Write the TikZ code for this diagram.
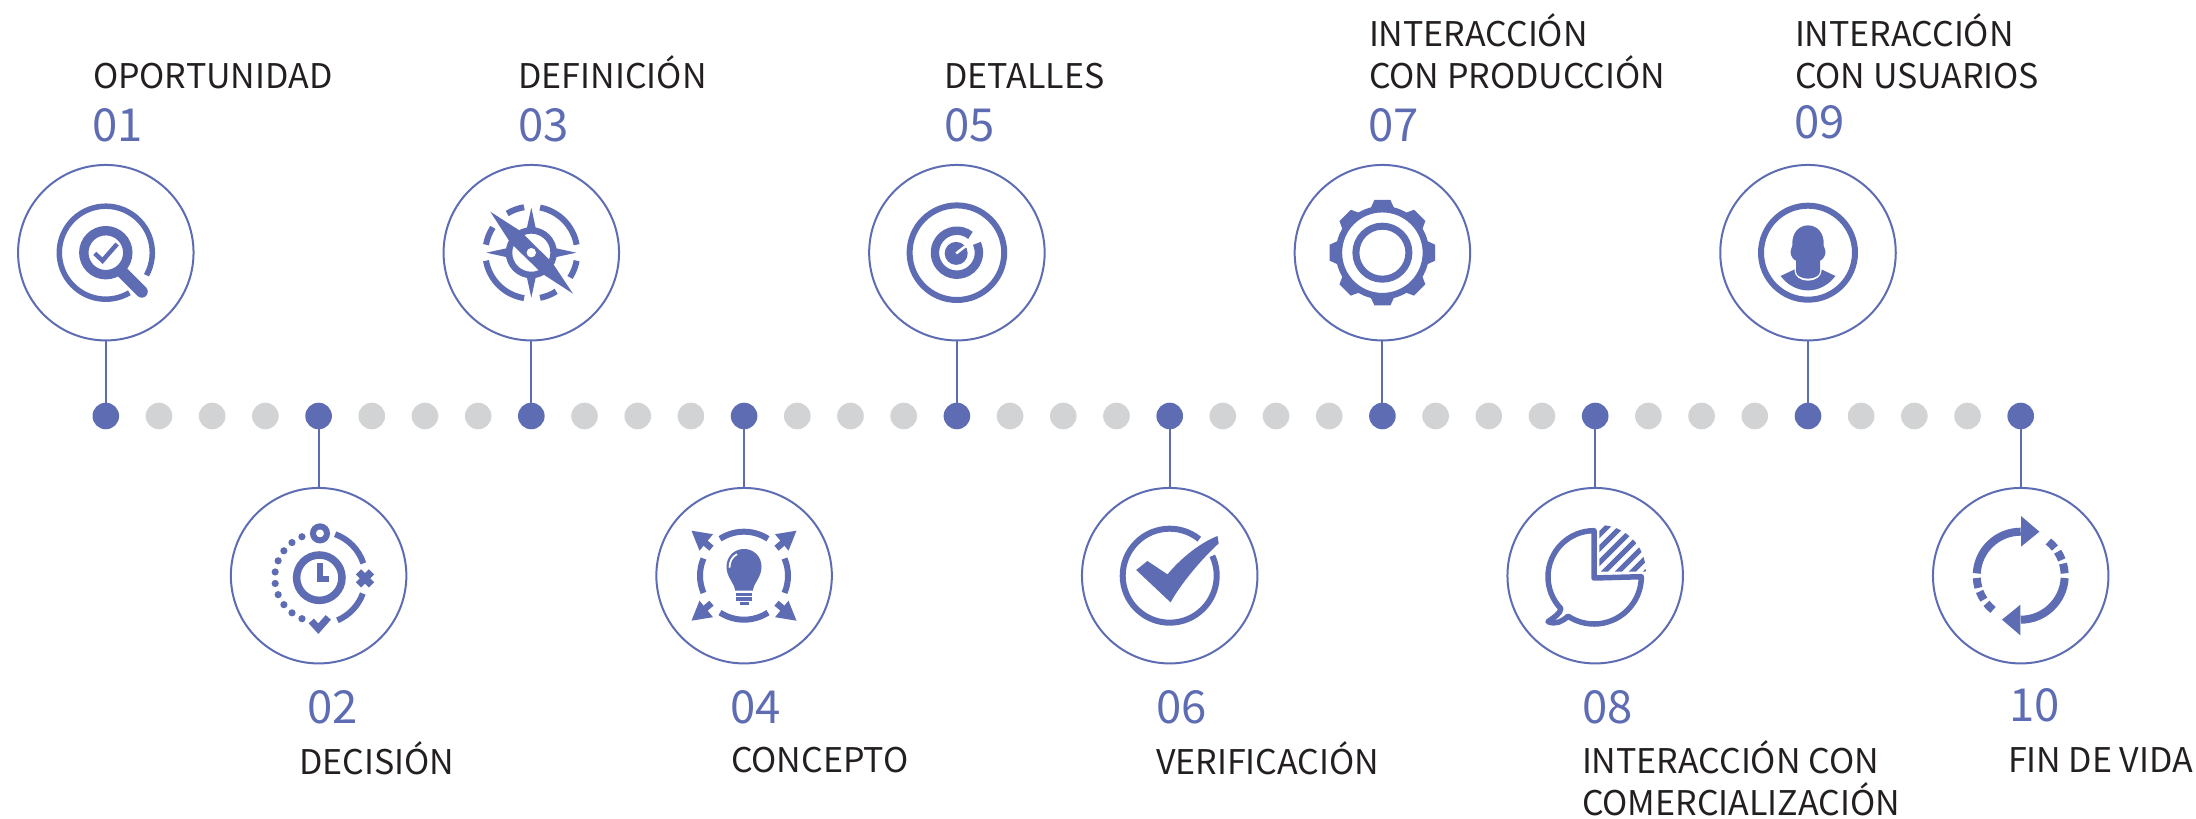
\documentclass[tikz,border=0pt]{standalone}
\usepackage{fontspec}
\setmainfont{Noto Sans CJK SC}
\definecolor{iconColor}{RGB}{94,109,179}
\definecolor{dotColor}{RGB}{209,211,212}
\definecolor{textColor}{RGB}{35,31,32}
\tikzset{
  stagecircle/.style={circle,draw=iconColor,line width=2pt,fill=white,inner sep=0pt,outer sep=0pt,minimum size=175.5pt},
  maindot/.style={circle,fill=iconColor,inner sep=0pt,outer sep=0pt,minimum size=26.6pt},
  greydot/.style={circle,fill=dotColor,inner sep=0pt,outer sep=0pt,minimum size=26.6pt},
  stagelabel/.style={anchor=base west,inner sep=0pt,outer sep=0pt,text=textColor,font=\fontsize{34}{42.4}\selectfont,align=left},
  stagenum/.style={anchor=base west,inner sep=0pt,outer sep=0pt,text=iconColor,font=\fontsize{45.5}{50}\selectfont},
  stem/.style={draw=iconColor,line width=2pt},
  iconline/.style={draw=iconColor,line width=#1},
  iconline/.default=6pt,
  iconfill/.style={fill=iconColor,draw=none}
}
% centred arc: start angle, end angle, radius
\newcommand{\ringarc}[4][iconline]{\draw[#1] (#2:#4) arc[start angle=#2,end angle=#3,radius=#4];}
\begin{document}
\begin{tikzpicture}[x=1pt,y=1pt]
\path[use as bounding box] (0,0) rectangle (2196,819);

% grey dots along the line
\foreach \i in {0,...,8}{
  \foreach \j in {1,2,3}{
    \node[greydot] (grey\i\j) at ({105.8+212.77*\i+53.19*\j},403) {};
  }
}

% stages above the line
\foreach \i/\xx in {1/105.8,3/531.3,5/956.9,7/1382.4,9/1808.0}{
  \node[maindot] (dot\i) at (\xx,403) {};
  \node[stagecircle] (stage\i) at (\xx,566.3) {};
  \draw[stem] (stage\i) -- (dot\i);
}
% stages below the line
\foreach \i/\xx in {2/318.6,4/744.1,6/1169.7,8/1595.2,10/2020.7}{
  \node[maindot] (dot\i) at (\xx,403) {};
  \node[stagecircle] (stage\i) at (\xx,243.3) {};
  \draw[stem] (stage\i) -- (dot\i);
}

% labels
\node[stagelabel] (label1) at (93,730.2) {OPORTUNIDAD};
\node[stagenum] (num1) at (92.5,677.8) {01};
\node[stagelabel] (label3) at (518.5,730.2) {DEFINICIÓN};
\node[stagenum] (num3) at (518.5,677.8) {03};
\node[stagelabel] (label5) at (944.5,730.2) {DETALLES};
\node[stagenum] (num5) at (944,677.8) {05};
\node[stagelabel] (label7) at (1369,730.2) {INTERACCIÓN\\CON PRODUCCIÓN};
\node[stagenum] (num7) at (1368.5,677.8) {07};
\node[stagelabel] (label9) at (1795,730.2) {INTERACCIÓN\\CON USUARIOS};
\node[stagenum] (num9) at (1794.5,680.1) {09};
\node[stagenum] (num2) at (307,95.2) {02};
\node[stagelabel] (label2) at (299.4,44.7) {DECISIÓN};
\node[stagenum] (num4) at (730.5,95.2) {04};
\node[stagelabel] (label4) at (731,46.3) {CONCEPTO};
\node[stagenum] (num6) at (1156.5,95.2) {06};
\node[stagelabel] (label6) at (1156,44.7) {VERIFICACIÓN};
\node[stagenum] (num8) at (1582.2,95.2) {08};
\node[stagelabel] (label8) at (1582,3.2) {INTERACCIÓN CON\\COMERCIALIZACIÓN};
\node[stagenum] (num10) at (2009,97.5) {10};
\node[stagelabel] (label10) at (2008,46.6) {FIN DE VIDA};

% 01 magnifier
\begin{scope}[shift={(stage1.center)}]
\ringarc[iconline=5.5pt]{-29}{300.5}{46.5}
\draw[iconline=9.4pt] (0,0) circle (22);
\draw[iconline=4.5pt] (-11,-0.7) -- (-3.3,-8) -- (11.3,8.7);
\draw[iconline=12pt,line cap=round] (16,-19) -- (36,-39);
\end{scope}

% 02 clock with choices
\begin{scope}[shift={(319.3,241.3)}]
\draw[iconline=7.5pt] (0,0) circle (22.7);
\draw[iconline=6pt] (1,14.3) -- (1,-1) -- (10,-1);
\draw[iconline=6pt] (0.7,44.3) circle (7);
\ringarc{70}{18}{46.3}
\ringarc{-20}{-67}{46.3}
\draw[iconline=7.5pt] (39.2,-7.2) -- (52.2,5.8) (39.2,5.8) -- (52.2,-7.2);
\draw[iconline=7pt] (-8,-43.3) -- (-1,-51) -- (9,-39.7);
\foreach \a in {0,...,9}{
  \fill[iconColor] ({113+14.9*\a}:44.5) circle (3.6);
}
\end{scope}

% 03 compass
\begin{scope}[shift={(stage3.center)}]
\ringarc{79}{10}{46}
\ringarc{190}{261}{46}
\ringarc{99}{121.6}{46}
\ringarc{146.6}{170}{46}
\ringarc{-10}{-32.6}{46}
\ringarc{-57.3}{-79}{46}
\foreach \a in {0,90,180,270}{
  \fill[iconColor,rotate=\a] (45,0) -- (22,5) -- (22,-5) -- cycle;
}
\draw[iconline=6.5pt] (0,0) circle (22.3);
\fill[iconColor] (-41,41) -- (-11,21.7) -- (21,-10) -- (41.7,-41) -- (11,-21) -- (-21,10) -- cycle;
\fill[white] (0,0) circle (4.7);
\end{scope}

% 04 bulb with arrows
\begin{scope}[shift={(744,243.3)}]
\ringarc{57}{123}{44}
\ringarc{237}{303}{44}
\ringarc{157}{203}{44}
\ringarc{-23}{23}{44}
\foreach \sx/\sy in {1/1,-1/1,1/-1,-1/-1}{
  \begin{scope}[xscale=\sx,yscale=\sy]
  \fill[iconColor] (52.5,45) -- (31,41.5) -- (44.5,25) -- cycle;
  \draw[iconline=6.5pt] (39,33) -- (32.5,27.5);
  \end{scope}
}
\fill[iconColor] (-9,-15) .. controls (-9,-8) and (-17.5,-2) .. (-17.5,9)
  .. controls (-17.5,20) and (-9,26.7) .. (0,26.7)
  .. controls (9,26.7) and (17.5,20) .. (17.5,9)
  .. controls (17.5,-2) and (9,-8) .. (9,-15) -- cycle;
\draw[white,line width=1.8pt] (-14.5,8) .. controls (-14.5,14) and (-12,19) .. (-7,21.5);
\draw[iconline=3.3pt] (-8,-19) -- (8,-19) (-8,-23.3) -- (8,-23.3) (-4.5,-28) -- (4.5,-28);
\end{scope}

% 05 target
\begin{scope}[shift={(stage5.center)}]
\draw[iconline=6pt] (0,0) circle (47.3);
\ringarc[iconline=8.4pt]{52}{385}{22}
\fill[iconColor] (-0.7,-0.7) circle (11.5);
\draw[white,line width=2.5pt] (-0.7,-0.7) -- (13,10);
\end{scope}

% 06 check mark
\begin{scope}[shift={(stage6.center)}]
\ringarc{51}{385}{47}
\fill[iconColor] (-33.5,5.7) -- (-22.3,14.7) -- (-2.2,1.3)
  .. controls (8,14) and (28,32) .. (47.8,39.7) -- (49,32.3)
  .. controls (30,15) and (10,-10) .. (0.9,-26.7) -- cycle;
\end{scope}

% 07 gear
\begin{scope}[shift={(stage7.center)}]
\draw[iconline=7pt] (0,0) circle (26.5);
\draw[iconline=6.5pt] (0,0) circle (43.5);
\foreach \a in {0,45,...,315}{
  \fill[iconColor,rotate=\a] (44,12) -- (52.7,8) -- (52.7,-8) -- (44,-12) -- cycle;
}
\end{scope}

% 08 speech bubble with pie
\begin{scope}[shift={(1594,242.3)}]
\draw[iconline=5.5pt,line join=round] (0,46) arc[start angle=90,end angle=224,radius=46]
  .. controls (-34,-37) and (-39,-40) .. (-46,-45)
  .. controls (-38,-48) and (-32,-45) .. (-26,-39.5)
  arc[start angle=236.6,end angle=360,radius=47.3] -- (0,-1.3) -- cycle;
\begin{scope}
\clip (5.3,5) -- (5.3,51.7) arc[start angle=90,end angle=0,radius=46.5] -- cycle;
\foreach \c in {-50.7,-36.7,...,48}{
  \draw[iconline=5pt] (\c,0) -- ({\c+60},60);
}
\end{scope}
\end{scope}

% 09 user
\begin{scope}[shift={(stage9.center)}]
\draw[iconline=6pt] (0,0) circle (47);
\fill[iconColor] (-27.4,-23.3) -- (-13,-16.5) -- (13,-16.5) -- (27.4,-23.3)
  .. controls (20,-33) and (10,-37.7) .. (0,-37.7)
  .. controls (-10,-37.7) and (-20,-33) .. (-27.4,-23.3) -- cycle;
\fill[white] (-13.5,-15) -- (-13.5,-18) .. controls (-13.5,-24) and (-7,-28) .. (0,-28)
  .. controls (7,-28) and (13.5,-24) .. (13.5,-18) -- (13.5,-15) -- cycle;
\fill[iconColor] (-12,-8) -- (-12,-19) .. controls (-12,-23) and (-6,-26) .. (0,-26)
  .. controls (6,-26) and (12,-23) .. (12,-19) -- (12,-8)
  .. controls (15,-7) and (17.5,-3) .. (17.5,1) .. controls (17.5,3) and (16,5) .. (15.7,7)
  .. controls (16.5,20) and (9,27.3) .. (0,27.3)
  .. controls (-9,27.3) and (-16.5,20) .. (-15.7,7)
  .. controls (-16,5) and (-17.5,3) .. (-17.5,1) .. controls (-17.5,-3) and (-15,-7) .. (-12,-8) -- cycle;
\end{scope}

% 10 cycle arrows
\begin{scope}[shift={(stage10.center)}]
\foreach \a in {0,180}{
  \begin{scope}[rotate=\a]
  \ringarc[iconline=8pt]{177}{90}{44}
  \fill[iconColor] (0.3,59.7) -- (18.7,44) -- (0.3,29) -- cycle;
  \ringarc[iconline=8pt]{51}{39}{44}
  \ringarc[iconline=8pt]{33}{21}{44}
  \ringarc[iconline=8pt]{16}{3}{44}
  \end{scope}
}
\end{scope}
\end{tikzpicture}
\end{document}
